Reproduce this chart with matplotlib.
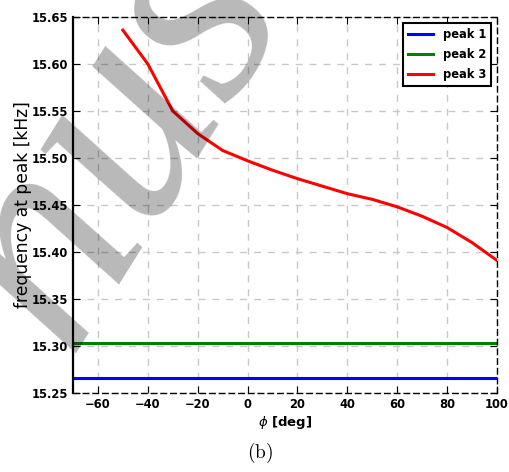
import numpy as np
import matplotlib
matplotlib.use('Agg')
import matplotlib.pyplot as plt

plt.rcParams['mathtext.fontset'] = 'dejavusans'

phi_flat = [-70, 100]
peak1 = [15.266, 15.266]
peak2 = [15.303, 15.303]

phi3 = [-50, -40, -30, -20, -10, 0, 10, 20, 30, 40, 50, 60, 70, 80, 90, 100]
peak3 = [15.636, 15.600, 15.550, 15.526, 15.508, 15.497, 15.487, 15.478,
         15.470, 15.462, 15.456, 15.448, 15.438, 15.426, 15.410, 15.391]

fig = plt.figure(figsize=(5.09, 4.72), dpi=100)
ax = fig.add_axes([0.1434, 0.1674, 0.8330, 0.7966])

ax.plot(phi_flat, peak1, color='#0000ff', lw=2.2, label='peak 1')
ax.plot(phi_flat, peak2, color='#008000', lw=2.2, label='peak 2')
ax.plot(phi3, peak3, color='#ff0000', lw=2.2, label='peak 3')

ax.set_xlim(-70, 100)
ax.set_ylim(15.25, 15.65)
ax.set_xticks([-60, -40, -20, 0, 20, 40, 60, 80, 100])
ax.set_yticks(np.arange(15.25, 15.651, 0.05))
ax.yaxis.set_major_formatter(matplotlib.ticker.FormatStrFormatter('%.2f'))
ax.grid(True, color='#c8c8c8', linestyle=(0, (5, 5)), lw=1)
ax.set_axisbelow(True)

ax.tick_params(direction='in', length=5, top=True, right=True, labelsize=8.3, pad=3.5)
for lab in ax.get_xticklabels() + ax.get_yticklabels():
    lab.set_fontweight('bold')

for side in ['top', 'right', 'bottom']:
    ax.spines[side].set_linestyle((0, (4, 3)))
    ax.spines[side].set_linewidth(1.0)
ax.spines['left'].set_linewidth(1.6)

ax.set_xlabel(r'$\phi$ [deg]', fontsize=9.5, fontweight='bold', labelpad=2)
ax.set_ylabel('frequency at peak [kHz]', fontsize=12.3, labelpad=-0.5)

leg = ax.legend(loc='upper right', prop={'weight': 'bold', 'size': 8.3},
                fancybox=False, framealpha=1, handlelength=2.2,
                borderaxespad=0.5, labelspacing=0.6, borderpad=0.45)
leg.get_frame().set_edgecolor('black')
leg.get_frame().set_linewidth(1.5)

fig.text(0.511, 0.04, r'$\mathrm{(b)}$', fontsize=14, math_fontfamily='cm',
         ha='center', va='center')

# manuscript watermark
fig.text(0.226, 0.705, 'nus', fontsize=215, family='Liberation Serif', style='italic',
         color='black', alpha=0.28, rotation=58, ha='center', va='center', zorder=10)

fig.savefig('out.png', dpi=100)
